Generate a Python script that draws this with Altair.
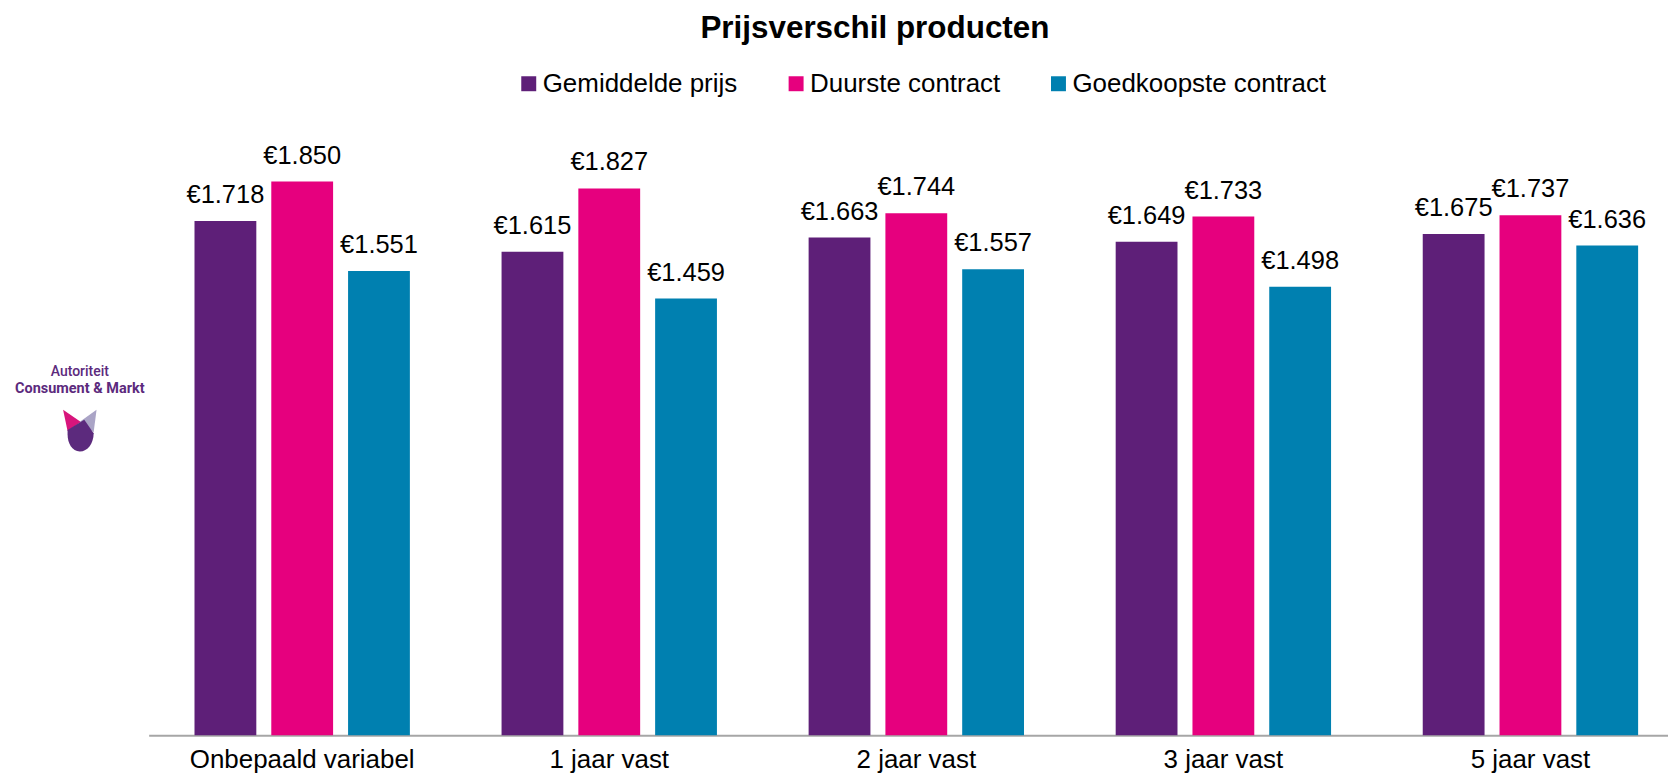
import altair as alt
import pandas as pd

categories = ["Onbepaald variabel", "1 jaar vast", "2 jaar vast", "3 jaar vast", "5 jaar vast"]
series = ["Gemiddelde prijs", "Duurste contract", "Goedkoopste contract"]
gemiddelde = [1718, 1615, 1663, 1649, 1675]
duurste = [1850, 1827, 1744, 1733, 1737]
goedkoopste = [1551, 1459, 1557, 1498, 1636]
colors = ["#5e1f78", "#e6007e", "#0080b0"]
title_text = "Prijsverschil producten"

rows = []
for i, c in enumerate(categories):
    for s, vals in zip(series, [gemiddelde, duurste, goedkoopste]):
        rows.append({"Product": c, "Reeks": s, "Prijs": vals[i]})
df = pd.DataFrame(rows)

FONT = "Liberation Sans"
LOGO = "#5c2a7d"

base = alt.Chart(df).encode(
    x=alt.X(
        "Product:N",
        sort=categories,
        scale=alt.Scale(paddingInner=0, paddingOuter=0, range=[0, 1539]),
        axis=alt.Axis(
            title=None, labelAngle=0, ticks=False, domainColor="#a6a6a6",
            domainWidth=2, labelFont=FONT, labelFontSize=26, labelColor="black",
            labelPadding=11, labelLimit=0,
        ),
    ),
    xOffset=alt.XOffset("Reeks:N", sort=series,
                        scale=alt.Scale(paddingInner=0.195, paddingOuter=0.597)),
    y=alt.Y("Prijs:Q", scale=alt.Scale(domain=[0, 2000], nice=False), axis=None),
)

bars = base.mark_bar().encode(
    color=alt.Color(
        "Reeks:N", sort=series,
        scale=alt.Scale(domain=series, range=colors),
        legend=alt.Legend(
            title=None, orient="none", legendX=368, legendY=-66,
            direction="horizontal", symbolType="square", symbolSize=225,
            symbolStrokeWidth=0, labelFont=FONT, labelFontSize=26,
            labelColor="black", labelOffset=1, columnPadding=45, labelLimit=0,
        ),
    )
)

labels = base.transform_calculate(
    label="'€' + replace(format(datum.Prijs, ','), ',', '.')"
).mark_text(
    dy=-18, baseline="alphabetic", align="center", fontSize=25.5, font=FONT, color="black"
).encode(text="label:N")

one = pd.DataFrame({"k": [0]})
title = alt.Chart(one).mark_text(
    text=title_text, font=FONT, fontSize=31.5, fontWeight="bold", color="black",
    baseline="alphabetic", align="center"
).encode(x=alt.value(728), y=alt.value(-99))

logo_t1 = alt.Chart(one).mark_text(
    text="Autoriteit", font="Roboto", fontSize=14, fontWeight=500, color=LOGO, baseline="middle"
).encode(x=alt.value(-69), y=alt.value(236))
logo_t2 = alt.Chart(one).mark_text(
    text="Consument & Markt", font="Roboto", fontSize=14.5, fontWeight="bold", color=LOGO, baseline="middle"
).encode(x=alt.value(-69), y=alt.value(253))

pink_path = "M -0.75 -0.9 L 0.05 -0.35 L -0.55 0.05 Z"
lav_path = "M 0.75 -0.9 L 0.62 0.1 L 0 -0.37 Z"
purple_path = ("M -0.55 0.0 L 0.2 -0.45 L 0.62 0.15 C 0.62 0.6 0.35 0.97 0 0.97 "
               "C -0.35 0.97 -0.55 0.6 -0.55 0.2 Z")
icon = [
    alt.Chart(one).mark_point(shape=p, filled=True, fill=f, opacity=1, size=2000, strokeWidth=0)
    .encode(x=alt.value(-69), y=alt.value(294))
    for p, f in [(pink_path, "#d8157c"), (lav_path, "#aaa4c6"), (purple_path, LOGO)]
]

chart = alt.layer(bars, labels, title, logo_t1, logo_t2, *icon).properties(
    width=1523,
    height=600,
    autosize=alt.AutoSizeParams(type="none"),
    padding={"left": 141, "top": 128, "right": 0, "bottom": 38},
).configure_view(stroke=None)

chart.save("out.html", embed_options={"renderer": "svg", "actions": False})
